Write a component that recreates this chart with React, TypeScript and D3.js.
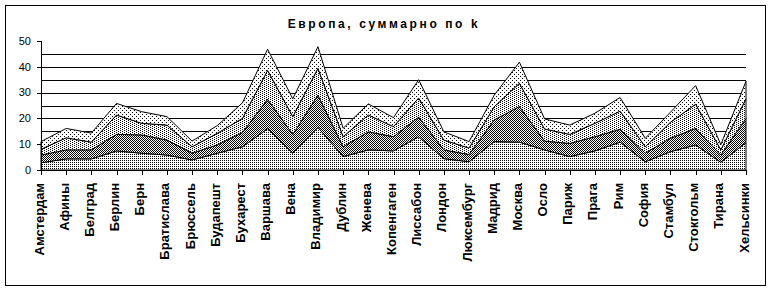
import React from 'react';
import * as d3 from 'd3';

const categories = [
  'Амстердам', 'Афины', 'Белград', 'Берлин', 'Берн', 'Братислава', 'Брюссель', 'Будапешт',
  'Бухарест', 'Варшава', 'Вена', 'Владимир', 'Дублин', 'Женева', 'Копенгаген', 'Лиссабон',
  'Лондон', 'Люксембург', 'Мадрид', 'Москва', 'Осло', 'Париж', 'Прага', 'Рим', 'София',
  'Стамбул', 'Стокгольм', 'Тирана', 'Хельсинки',
];

const series1 = [2.8, 4.3, 4.3, 7.4, 6.5, 5.8, 3.9, 6.5, 9.0, 16.0, 6.5, 16.5, 5.2, 7.8, 7.4, 12.9, 4.4, 3.2, 11.0, 10.8, 7.8, 5.2, 7.4, 10.8, 3.2, 7.1, 9.7, 3.0, 10.6];
const series2 = [3.0, 3.5, 3.5, 6.4, 7.1, 5.8, 2.6, 3.2, 5.5, 11.4, 7.3, 12.5, 3.8, 7.0, 5.5, 7.6, 3.4, 2.8, 8.4, 13.8, 3.4, 5.1, 5.5, 5.0, 3.3, 5.2, 6.4, 2.8, 9.4];
const series3 = [2.2, 4.7, 3.0, 7.5, 4.5, 5.8, 2.5, 4.5, 5.5, 11.2, 6.9, 10.4, 3.9, 6.5, 3.9, 7.4, 3.8, 2.5, 5.1, 9.0, 4.7, 3.5, 5.2, 7.0, 2.5, 6.2, 9.4, 2.0, 7.6];
const series4 = [3.0, 3.6, 3.5, 4.5, 4.5, 3.3, 2.2, 3.0, 6.0, 8.2, 6.9, 8.4, 3.3, 4.3, 3.5, 7.1, 3.2, 2.5, 4.5, 8.2, 3.9, 3.6, 3.9, 5.3, 3.3, 3.9, 7.2, 2.0, 6.8];

const yTicks = [0, 10, 20, 30, 40, 50];
const gridValues = [5, 10, 15, 20, 25, 30, 35, 40, 45];
const title = 'Европа, суммарно по k';

const keys = ['s1', 's2', 's3', 's4'];
const fills = ['url(#pLight)', 'url(#pDark)', 'url(#pDots1)', 'url(#pDots2)'];

export default function App() {
  const W = 773;
  const H = 291;
  const x = d3.scalePoint<string>().domain(categories).range([41, 746]);
  const y = d3.scaleLinear().domain([0, 50]).range([170, 41]);

  const rows = categories.map((c, i) => ({
    cat: c,
    s1: series1[i],
    s2: series2[i],
    s3: series3[i],
    s4: series4[i],
  }));
  const stacked = d3.stack<any>().keys(keys)(rows);
  const area = d3
    .area<any>()
    .x((d) => x(d.data.cat) as number)
    .y0((d) => y(d[0]))
    .y1((d) => y(d[1]));

  const font = 'Arial, "Liberation Sans", sans-serif';
  const x0 = x(categories[0]) as number;
  const x1 = x(categories[categories.length - 1]) as number;
  const yBase = Math.round(y(0)) + 0.5;

  return (
    <svg
      width={W}
      height={H}
      style={{ position: 'absolute', left: 0, top: 0, background: '#fff' }}
      fontFamily={font}
    >
      <defs>
        <pattern id="pLight" width={2} height={2} patternUnits="userSpaceOnUse">
          <rect width={2} height={2} fill="#fff" />
          <rect x={0} y={0} width={1} height={1} fill="#000" />
        </pattern>
        <pattern id="pDark" width={2} height={2} patternUnits="userSpaceOnUse">
          <rect width={2} height={2} fill="#fff" />
          <rect x={0} y={0} width={1} height={1} fill="#000" />
          <rect x={1} y={1} width={1} height={1} fill="#000" />
        </pattern>
        <pattern id="pDots1" width={4} height={2} patternUnits="userSpaceOnUse">
          <rect width={4} height={2} fill="#fff" />
          <rect x={0} y={0} width={1} height={1} fill="#000" />
          <rect x={2} y={1} width={1} height={1} fill="#000" />
        </pattern>
        <pattern id="pDots2" width={4} height={4} patternUnits="userSpaceOnUse">
          <rect width={4} height={4} fill="#fff" />
          <rect x={0} y={0} width={1} height={1} fill="#000" />
          <rect x={2} y={2} width={1} height={1} fill="#000" />
        </pattern>
      </defs>

      <rect x={5.5} y={5.5} width={760} height={280} fill="#fff" stroke="#000" strokeWidth={1} />

      <text
        x={384}
        y={28}
        textAnchor="middle"
        fontSize={12}
        fontWeight="bold"
        letterSpacing={2.6}
        fill="#000"
      >
        {title}
      </text>

      {gridValues.map((v) => (
        <line
          key={'g' + v}
          x1={x0}
          x2={x1}
          y1={Math.round(y(v)) + 0.5}
          y2={Math.round(y(v)) + 0.5}
          stroke="#000"
          strokeWidth={1}
          shapeRendering="crispEdges"
        />
      ))}

      {stacked.map((s, i) => (
        <path key={s.key} d={area(s) as string} fill={fills[i]} stroke="#000" strokeWidth={1} />
      ))}

      {/* y axis */}
      <line x1={x0 + 0.5} x2={x0 + 0.5} y1={y(50)} y2={yBase} stroke="#000" shapeRendering="crispEdges" />
      {yTicks.map((v) => (
        <g key={'yt' + v}>
          <line
            x1={x0 - 4}
            x2={x0}
            y1={Math.round(y(v)) + 0.5}
            y2={Math.round(y(v)) + 0.5}
            stroke="#000"
            shapeRendering="crispEdges"
          />
          <text x={31} y={y(v)} dy="0.35em" textAnchor="end" fontSize={11} fill="#000">
            {v}
          </text>
        </g>
      ))}

      {/* x axis */}
      <line x1={x0} x2={x1 + 1} y1={yBase} y2={yBase} stroke="#000" shapeRendering="crispEdges" />
      {categories.map((c) => {
        const cx = Math.round(x(c) as number) + 0.5;
        return (
          <g key={'xt' + c}>
            <line x1={cx} x2={cx} y1={yBase} y2={yBase + 4} stroke="#000" shapeRendering="crispEdges" />
            <text
              transform={`translate(${(x(c) as number) + 2.5},183) rotate(-90)`}
              textAnchor="end"
              fontSize={13}
              fontWeight="bold"
              fill="#000"
            >
              {c}
            </text>
          </g>
        );
      })}
    </svg>
  );
}
